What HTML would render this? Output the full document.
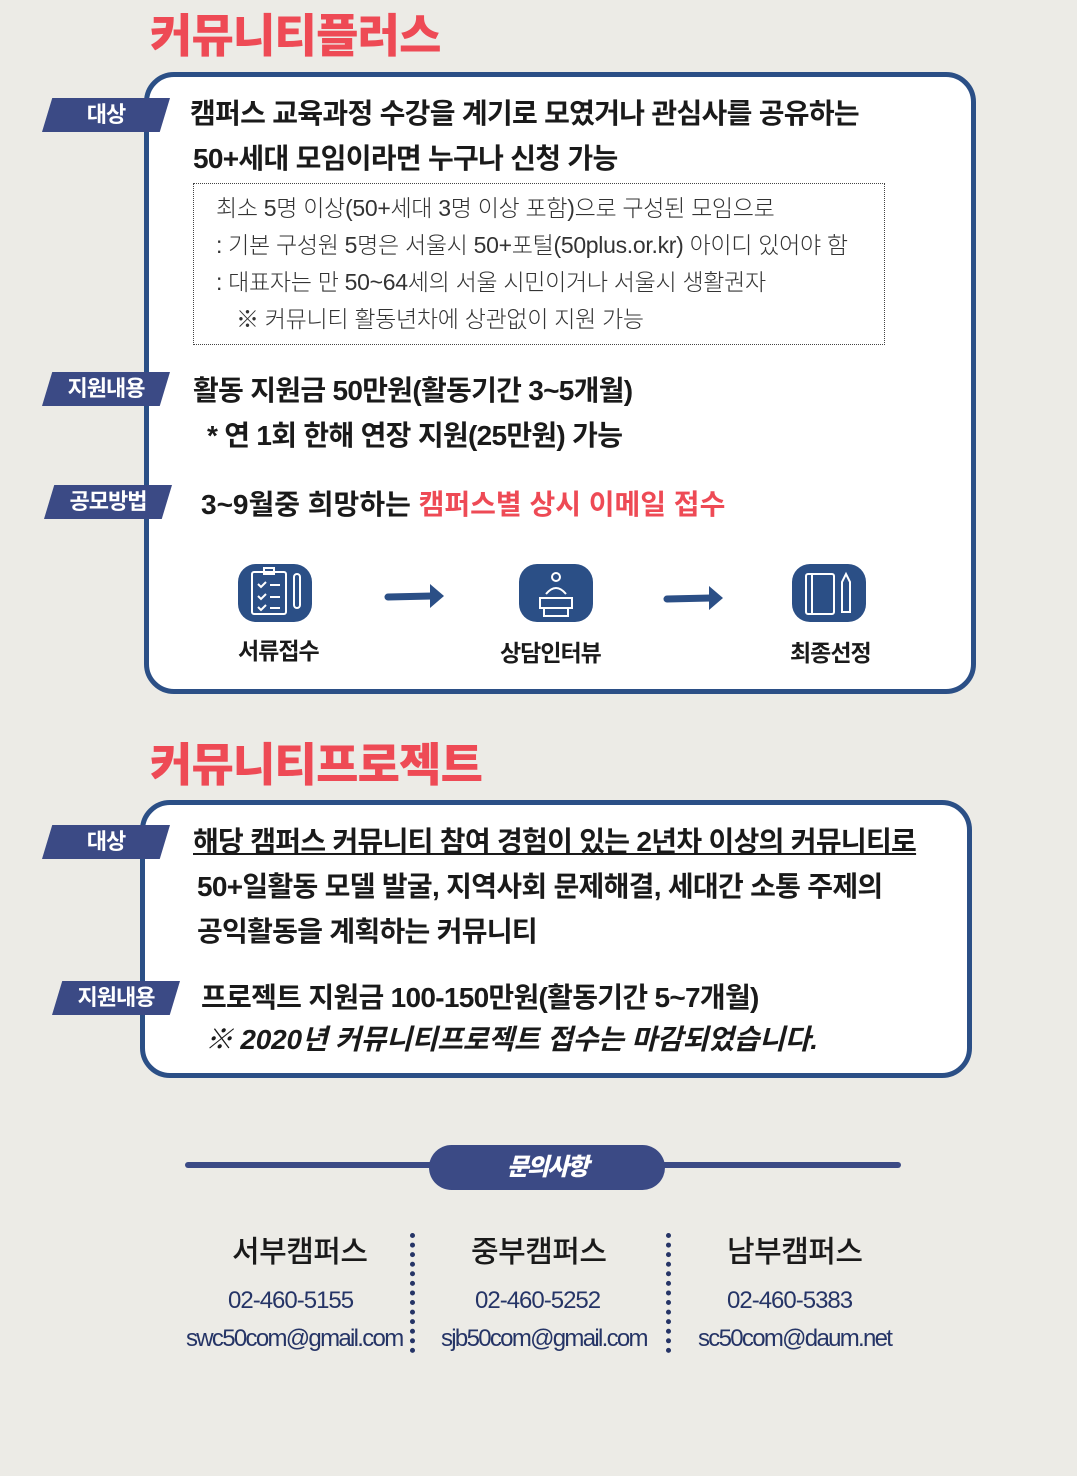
<!DOCTYPE html>
<html><head><meta charset="utf-8"><style>
body{margin:0;width:1077px;height:1476px;background:#ecebe6;position:relative;overflow:hidden;font-family:"Liberation Sans","Noto Sans CJK KR",sans-serif;color:#1a1a1a}
.a{position:absolute;white-space:nowrap}
.title{color:#ee4a55;font-weight:900;font-size:46px;letter-spacing:-0.8px}
.card{position:absolute;border:5px solid #2b4f86;border-radius:30px;background:#fff;box-sizing:border-box}
.tag{position:absolute;background:#3b4a85;color:#fff;font-weight:700;font-size:22px;text-align:center;clip-path:polygon(8% 0,100% 0,92% 100%,0 100%);line-height:34px;height:34px;letter-spacing:-1px}
.b{font-weight:700;font-size:28px;letter-spacing:-0.7px}
.s{font-size:23px;letter-spacing:-0.3px;color:#333;font-weight:300}
.ic{position:absolute;width:74px;height:58px;background:#2b4f86;border-radius:18px}
.lab{font-weight:700;font-size:23px;letter-spacing:-1px}
.camp{font-size:30px;font-weight:500;letter-spacing:-0.5px;color:#1a1a1a}
.ph{font-size:24px;color:#253466;letter-spacing:-1px}
.em{font-size:24px;color:#253466;letter-spacing:-1.7px}
.dots{position:absolute;width:0;border-left:5px dotted #253466;height:120px}
</style></head><body>
<div class="a title" style="left:150px;top:0px">커뮤니티플러스</div>
<div class="card" style="left:144px;top:72px;width:832px;height:622px"></div>
<div class="tag" style="left:42px;top:98px;width:128px">대상</div>
<div class="a b" style="left:190px;top:92px">캠퍼스 교육과정 수강을 계기로 모였거나 관심사를 공유하는</div>
<div class="a b" style="left:193px;top:137px">50+세대 모임이라면 누구나 신청 가능</div>
<div class="a" style="left:193px;top:183px;width:690px;height:160px;border:1px dotted #444"></div>
<div class="a s" style="left:216px;top:189px">최소 5명 이상(50+세대 3명 이상 포함)으로 구성된 모임으로</div>
<div class="a s" style="left:216px;top:226px">: 기본 구성원 5명은 서울시 50+포털(50plus.or.kr) 아이디 있어야 함</div>
<div class="a s" style="left:216px;top:263px">: 대표자는 만 50~64세의 서울 시민이거나 서울시 생활권자</div>
<div class="a s" style="left:236px;top:300px">※ 커뮤니티 활동년차에 상관없이 지원 가능</div>
<div class="tag" style="left:42px;top:372px;width:128px">지원내용</div>
<div class="a b" style="left:193px;top:369px">활동 지원금 50만원(활동기간 3~5개월)</div>
<div class="a b" style="left:207px;top:414px">* 연 1회 한해 연장 지원(25만원) 가능</div>
<div class="tag" style="left:44px;top:485px;width:128px">공모방법</div>
<div class="a b" style="left:201px;top:483px;letter-spacing:0px">3~9월중 희망하는 <span style="color:#ee4a55">캠퍼스별 상시 이메일 접수</span></div>
<div class="ic" style="left:238px;top:564px"></div>
<div class="ic" style="left:519px;top:564px"></div>
<div class="ic" style="left:792px;top:564px"></div>
<svg class="a" style="left:0;top:0" width="1077" height="700">
<g fill="none" stroke="#fff" stroke-width="2">
<rect x="252" y="572" width="34" height="42" rx="2"/><rect x="264" y="568" width="10" height="6"/>
<path d="M258 584l3 3 5-5M258 596l3 3 5-5M258 607l3 3 5-5M270 585h10M270 597h10M270 608h10"/>
<rect x="294" y="574" width="6" height="34" rx="3"/>
<circle cx="556" cy="577" r="4"/><path d="M540 598h32v10h-32zM544 608v8h24v-8M546 594q10-12 20 0"/>
<rect x="806" y="574" width="28" height="40" rx="2"/><path d="M812 574v40"/><path d="M842 612v-30l4-8 4 8v30z"/>
</g>
<g stroke="#2b4f86" stroke-width="7" stroke-linecap="round" fill="#2b4f86">
<path d="M388 597l44-1"/><path d="M667 599l44-1"/>
</g>
<path d="M430 584l14 12-14 12z" fill="#2b4f86"/><path d="M709 586l14 12-14 12z" fill="#2b4f86"/>
</svg>
<div class="a lab" style="left:238px;top:632px">서류접수</div>
<div class="a lab" style="left:500px;top:634px">상담인터뷰</div>
<div class="a lab" style="left:790px;top:634px">최종선정</div>

<div class="a title" style="left:150px;top:729px">커뮤니티프로젝트</div>
<div class="card" style="left:140px;top:800px;width:832px;height:278px"></div>
<div class="tag" style="left:42px;top:825px;width:128px">대상</div>
<div class="a b" style="left:193px;top:820px;text-decoration:underline">해당 캠퍼스 커뮤니티 참여 경험이 있는 2년차 이상의 커뮤니티<span style="text-decoration:none">로</span></div>
<div class="a b" style="left:197px;top:865px">50+일활동 모델 발굴, 지역사회 문제해결, 세대간 소통 주제의</div>
<div class="a b" style="left:197px;top:910px">공익활동을 계획하는 커뮤니티</div>
<div class="tag" style="left:52px;top:981px;width:128px">지원내용</div>
<div class="a b" style="left:201px;top:976px">프로젝트 지원금 100-150만원(활동기간 5~7개월)</div>
<div class="a b" style="left:205px;top:1018px;font-style:italic;letter-spacing:-0.2px">※ 2020년 커뮤니티프로젝트 접수는 마감되었습니다.</div>

<div class="a" style="left:185px;top:1162px;width:716px;height:6px;border-radius:3px;background:#3b4a85"></div>
<div class="a" style="left:429px;top:1145px;width:236px;height:45px;border-radius:23px;background:#3b4a85;color:#fff;font-weight:900;font-size:24px;text-align:center;line-height:45px;font-style:italic;letter-spacing:-2px">문의사항</div>
<div class="a camp" style="left:232px;top:1227px">서부캠퍼스</div>
<div class="a camp" style="left:471px;top:1227px">중부캠퍼스</div>
<div class="a camp" style="left:727px;top:1227px">남부캠퍼스</div>
<div class="a ph" style="left:228px;top:1287px">02-460-5155</div>
<div class="a ph" style="left:475px;top:1287px">02-460-5252</div>
<div class="a ph" style="left:727px;top:1287px">02-460-5383</div>
<div class="a em" style="left:186px;top:1325px">swc50com@gmail.com</div>
<div class="a em" style="left:441px;top:1325px">sjb50com@gmail.com</div>
<div class="a em" style="left:698px;top:1325px">sc50com@daum.net</div>
<div class="dots" style="left:410px;top:1233px"></div>
<div class="dots" style="left:666px;top:1233px"></div>
</body></html>
